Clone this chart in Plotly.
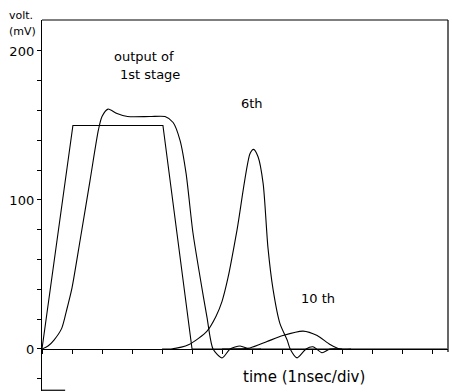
import plotly.graph_objects as go

# input step (trapezoid)
t_in = [0.0, 1.03, 4.03, 5.0, 13.5]
v_in = [0, 150, 150, 0, 0]

# output of 1st stage
t_1 = [0.0, 0.2, 0.4, 0.66, 0.82, 1.0, 1.27, 1.6, 1.88, 2.0, 2.2, 2.5, 2.85, 3.6, 4.1, 4.37,
       4.6, 4.8, 5.03, 5.27, 5.5, 5.7, 6.0, 6.27, 6.6, 6.9, 7.3]
v_1 = [0, 2, 6, 14, 26, 41, 73, 113, 147, 156, 161, 158, 156, 156, 156, 152,
       140, 118, 78, 48, 21, 0, -6, 0, 2, 0, 0]

# 6th stage
t_6 = [4.0, 4.3, 4.9, 5.5, 5.8, 6.0, 6.2, 6.5, 6.93, 7.05, 7.2, 7.37, 7.53, 7.7, 7.93,
       8.17, 8.27, 8.5, 8.8, 9.03, 9.33, 9.6, 10.0]
v_6 = [0, 0, 3, 12, 22, 32, 48, 80, 131, 134, 129, 111, 68, 40, 17,
       6, 0, -6, 0, 1.5, -2.5, 0, 0]

# 10th stage
t_10 = [6.0, 6.27, 6.93, 7.5, 8.03, 8.7, 9.17, 9.6, 9.93, 10.3]
v_10 = [0, 0, 0.7, 5, 9, 12, 9, 3, 0, 0]

y_tickvals = [-20, 0, 20, 40, 60, 80, 100, 120, 140, 160, 180, 200]
y_ticktext = ["", "0", "", "", "", "", "100", "", "", "", "", "200"]

YMIN, YMAX = -28.2, 220.8
XMIN, XMAX = 0, 13.53

FONT = "DejaVu Sans"
line_style = dict(color="black", width=1.1)
smooth = dict(color="black", width=1.1, shape="spline", smoothing=0.7)

fig = go.Figure()
fig.add_trace(go.Scatter(x=t_in, y=v_in, mode="lines", line=line_style, showlegend=False))
fig.add_trace(go.Scatter(x=t_1, y=v_1, mode="lines", line=smooth, showlegend=False))
fig.add_trace(go.Scatter(x=t_6, y=v_6, mode="lines", line=smooth, showlegend=False))
fig.add_trace(go.Scatter(x=t_10, y=v_10, mode="lines", line=smooth, showlegend=False))

zero_pos = (0 - YMIN) / (YMAX - YMIN)

fig.update_layout(
    width=452, height=392,
    margin=dict(l=42, r=4, t=20, b=1, autoexpand=False),
    paper_bgcolor="white", plot_bgcolor="white",
    font=dict(family=FONT, size=13, color="black"),
    hovermode=False,
    xaxis=dict(range=[XMIN, XMAX], showgrid=False, zeroline=False, automargin=False,
               showline=True, linecolor="black", linewidth=1,
               anchor="free", position=zero_pos,
               ticks="outside", ticklen=4, tickwidth=1, tickcolor="black",
               tick0=0, dtick=1, showticklabels=False),
    yaxis=dict(range=[YMIN, YMAX], showgrid=False, zeroline=False, automargin=False,
               showline=True, linecolor="black", linewidth=1.2,
               ticks="outside", ticklen=4, tickwidth=1, tickcolor="black",
               tickvals=y_tickvals, ticktext=y_ticktext,
               tickfont=dict(family=FONT, size=13)),
    shapes=[
        dict(type="line", xref="paper", yref="paper", x0=0, x1=1, y0=1, y1=1,
             line=dict(color="black", width=1.2)),
        dict(type="line", xref="paper", yref="y", x0=1, x1=1, y0=-2, y1=YMAX,
             line=dict(color="black", width=1.2)),
        dict(type="line", xref="paper", yref="paper", x0=0, x1=0.057, y0=0.002, y1=0.002,
             line=dict(color="black", width=1.2)),
    ],
    annotations=[
        dict(text="volt.", xref="paper", yref="paper", x=-0.052, y=1.013, showarrow=False,
             font=dict(size=11), xanchor="center", yanchor="middle"),
        dict(text="(mV)", xref="paper", yref="paper", x=-0.047, y=0.97, showarrow=False,
             font=dict(size=11), xanchor="center", yanchor="middle"),
        dict(text="output of", x=3.4, y=196, showarrow=False, font=dict(size=13)),
        dict(text="1st stage", x=3.6, y=184, showarrow=False, font=dict(size=13)),
        dict(text="6th", x=7.0, y=165, showarrow=False, font=dict(size=13)),
        dict(text="10 th", x=9.2, y=33.6, showarrow=False, font=dict(size=13)),
        dict(text="time (1nsec/div)", x=8.73, y=-18.8, showarrow=False, font=dict(size=15)),
    ],
)

# remove the default page margin so the 452x392 figure fills the window exactly
fig.write_html("out.html",
               config={"displayModeBar": False, "staticPlot": True},
               post_script="document.body.style.margin='0';document.body.style.overflow='hidden';")
